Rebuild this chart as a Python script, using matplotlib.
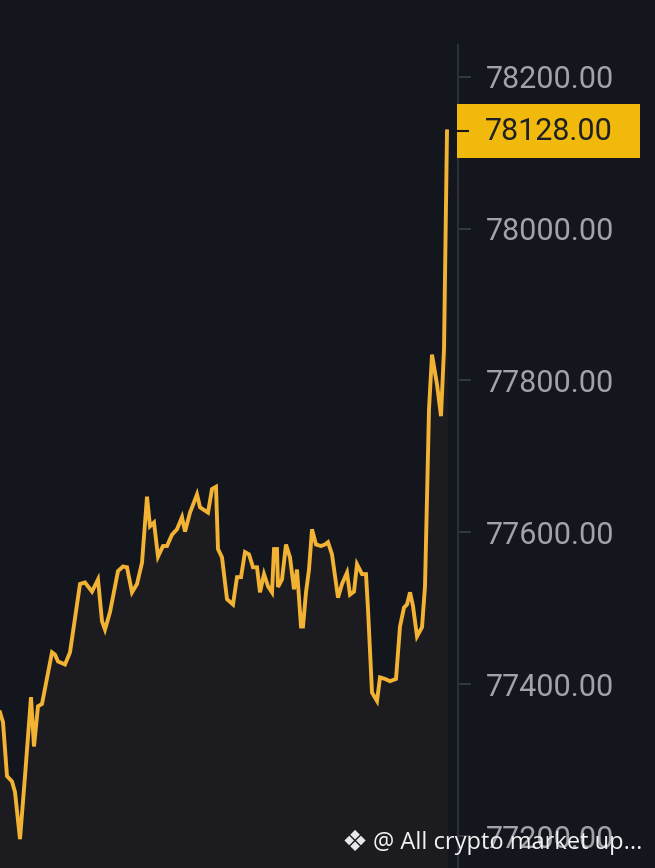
import matplotlib.pyplot as plt
from matplotlib.patches import Rectangle
from matplotlib.transforms import blended_transform_factory
import numpy as np

# price samples (time step, price)
t = [0, 3, 7, 12, 15, 20, 25, 31, 34, 38, 42, 52, 55, 58, 65, 70, 80, 85, 92, 98,
     102, 105, 110, 118, 123, 127, 132, 137, 142, 147, 150, 154, 158, 163, 167, 172, 177, 182, 185, 190,
     197, 200, 208, 212, 216, 218, 222, 227, 233, 237, 241, 245, 249, 253, 257, 260, 264, 268, 272, 274,
     277, 278, 282, 286, 290, 294, 297, 301, 303, 306, 309, 312, 316, 321, 325, 328, 332, 338, 342, 347,
     350, 354, 357, 362, 366, 368, 372, 377, 380, 385, 390, 396, 400, 404, 407, 410, 413, 417, 422, 425,
     429, 432, 437, 441, 444, 447]
price = [77363, 77350, 77279, 77272, 77258, 77196, 77279, 77383, 77318, 77371, 77374, 77442, 77439, 77430, 77426, 77442, 77532, 77534, 77522, 77538,
         77483, 77472, 77495, 77549, 77555, 77554, 77521, 77532, 77560, 77647, 77608, 77613, 77568, 77582, 77582, 77597, 77604, 77620, 77601, 77626,
         77650, 77633, 77626, 77657, 77660, 77578, 77567, 77512, 77505, 77541, 77541, 77574, 77571, 77554, 77554, 77521, 77545, 77529, 77521, 77578,
         77578, 77528, 77538, 77584, 77567, 77525, 77551, 77476, 77476, 77521, 77551, 77604, 77584, 77582, 77584, 77587, 77571, 77514, 77532, 77547,
         77518, 77522, 77558, 77545, 77545, 77499, 77389, 77378, 77409, 77407, 77404, 77407, 77476, 77501, 77505, 77521, 77503, 77463, 77475, 77529,
         77762, 77834, 77795, 77753, 77841, 78128]

yticks = [77200, 77400, 77600, 77800, 78000, 78200]
last_price = 78128
watermark = "@ All crypto market up..."

bg = '#13161d'
gold = '#f2b233'

plt.rcParams['font.family'] = ['Roboto', 'DejaVu Sans']

fig = plt.figure(figsize=(6.55, 8.68), dpi=100, facecolor=bg)
ax = fig.add_axes([0, 0, 458 / 655, 1])
ax.set_facecolor(bg)

ax.fill_between(t, price, 77100, color='#1c1c20', zorder=1)
ax.plot(t, price, color=gold, lw=2.8, solid_joinstyle='miter', zorder=3)

ax.set_xlim(0, 458)
ax.set_ylim(77158, 78301)
ax.set_xticks([])

for s in ['top', 'left', 'bottom']:
    ax.spines[s].set_visible(False)
ax.spines['right'].set_color('#2b2f37')
ax.spines['right'].set_linewidth(1.5)
ax.spines['right'].set_bounds(77100, 78242)

ax.yaxis.tick_right()
ax.set_yticks(yticks)
ax.set_yticklabels([f'{v:.2f}' for v in yticks])
ax.tick_params(axis='y', length=9, width=1.2, color='#3a3e46', pad=11,
               labelsize=22, labelcolor='#a0a3aa')

# last price tag
tr = blended_transform_factory(ax.transAxes, ax.transData)
ax.add_patch(Rectangle((457 / 458, last_price - 35.5), 183 / 458, 71, transform=tr,
                       facecolor='#f0b90b', edgecolor='none', clip_on=False, zorder=5))
ax.plot([458 / 458, 468 / 458], [last_price, last_price], transform=tr, color='#1a1a1a',
        lw=1.5, clip_on=False, zorder=6)
ax.text(485 / 458, last_price, f'{last_price:.2f}', transform=tr, va='center', ha='left',
        fontsize=22, color='#1e2026', zorder=6, clip_on=False)

# watermark
fig.text(355 / 655, 1 - 843 / 868, '❖', family='DejaVu Sans', fontsize=21,
         color='#e8e8e8', ha='center', va='center')
fig.text(373 / 655, 1 - 843 / 868, watermark, family='Open Sans', fontsize=17,
         color='#f2f2f2', ha='left', va='center')

fig.savefig('out.png', dpi=100, facecolor=bg)
